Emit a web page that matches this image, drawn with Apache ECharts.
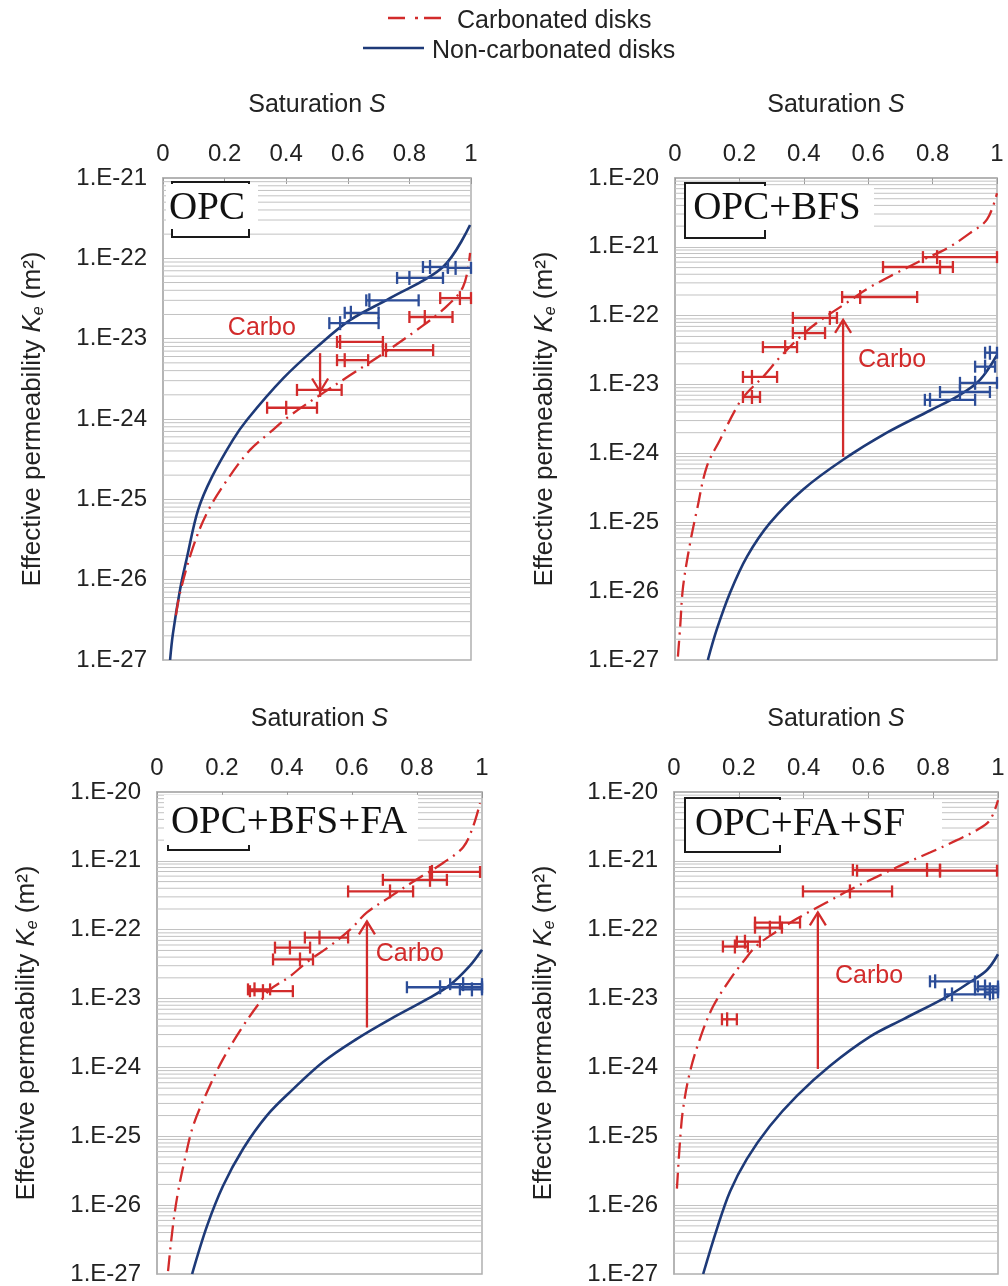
<!DOCTYPE html>
<html><head><meta charset="utf-8">
<script src="https://cdn.jsdelivr.net/npm/echarts@6/dist/echarts.min.js"></script>
<style>html,body{margin:0;padding:0;background:#fff}#c{width:1008px;height:1286px}</style>
</head><body><div id="c"></div><script>
// ---------- DATA (Saturation S, effective permeability Ke in m²) ----------
// Panel 1: OPC
const opcNonCarbCurve = [[0.023,1.0e-27],[0.032,2.1e-27],[0.055,7.4e-27],[0.078,1.9e-26],[0.114,7.4e-26],[0.159,1.9e-25],[0.227,5.5e-25],[0.273,9.8e-25],[0.39,3.2e-24],[0.5,7.9e-24],[0.607,1.7e-23],[0.737,3.2e-23],[0.909,7.8e-23],[0.997,2.6e-22]];
const opcCarbCurve = [[0.042,3.6e-27],[0.055,6.8e-27],[0.097,2.5e-26],[0.143,6.8e-26],[0.208,1.74e-25],[0.282,4.1e-25],[0.347,6.8e-25],[0.412,1.1e-24],[0.519,2.1e-24],[0.607,3.5e-24],[0.714,6.5e-24],[0.825,1.29e-23],[0.909,2.3e-23],[0.974,4.4e-23],[0.997,1.17e-22]];
// error bars: [S, S low, S high, Ke]
const opcNonCarbBars = [[0.867,0.844,0.925,7.8e-23],[0.95,0.925,1.0,7.6e-23],[0.80,0.76,0.909,5.7e-23],[0.67,0.66,0.83,3.0e-23],[0.61,0.59,0.70,2.1e-23],[0.575,0.54,0.70,1.56e-23]];
const opcCarbBars = [[0.964,0.90,1.0,3.2e-23],[0.85,0.80,0.94,1.86e-23],[0.575,0.565,0.714,9.1e-24],[0.724,0.714,0.877,7.2e-24],[0.59,0.565,0.666,5.4e-24],[0.51,0.435,0.58,2.3e-24],[0.40,0.338,0.50,1.38e-24]];
const opcArrow = [[0.51,6.6e-24,2.2e-24]];          // [S, from Ke, to Ke]
const opcCarboLabel = [[0.321,1.35e-23]];

// Panel 2: OPC+BFS
const bfsNonCarbCurve = [[0.102,1.0e-27],[0.130,2.8e-27],[0.171,9.5e-27],[0.224,3.2e-26],[0.295,9.8e-26],[0.398,3.0e-25],[0.522,8.1e-25],[0.658,2.0e-24],[0.792,4.2e-24],[0.885,7.1e-24],[0.947,1.17e-23],[1.0,2.7e-23]];
const bfsCarbCurve = [[0.009,1.12e-27],[0.016,3.0e-27],[0.025,1.15e-26],[0.047,5.0e-26],[0.068,1.5e-25],[0.099,6.5e-25],[0.140,1.58e-24],[0.193,4.8e-24],[0.224,7.6e-24],[0.273,1.29e-23],[0.326,2.5e-23],[0.388,4.9e-23],[0.441,7.9e-23],[0.534,1.55e-22],[0.606,2.6e-22],[0.689,4.2e-22],[0.770,6.5e-22],[0.845,9.5e-22],[0.916,1.58e-21],[0.969,2.5e-21],[1.0,6.0e-21]];
const bfsNonCarbBars = [[0.978,0.963,1.0,2.9e-23],[0.963,0.932,0.994,1.82e-23],[0.932,0.885,1.0,1.06e-23],[0.885,0.823,0.978,7.8e-24],[0.792,0.776,0.932,6.0e-24]];
const bfsCarbBars = [[0.814,0.77,1.0,7.1e-22],[0.823,0.646,0.863,5.1e-22],[0.575,0.519,0.752,1.87e-22],[0.481,0.366,0.503,9.3e-23],[0.404,0.366,0.466,5.6e-23],[0.342,0.273,0.379,3.5e-23],[0.239,0.211,0.317,1.29e-23],[0.239,0.211,0.264,6.6e-24]];
const bfsArrow = [[0.522,8.9e-25,8.7e-23]];
const bfsCarboLabel = [[0.674,2.3e-23]];

// Panel 3: OPC+BFS+FA
const bfsFaNonCarbCurve = [[0.108,1.0e-27],[0.154,5.0e-27],[0.203,1.9e-26],[0.265,6.6e-26],[0.338,2.0e-25],[0.418,4.8e-25],[0.511,1.2e-24],[0.615,2.6e-24],[0.717,5.0e-24],[0.831,9.8e-24],[0.902,1.58e-23],[0.963,3.0e-23],[1.0,5.1e-23]];
const bfsFaCarbCurve = [[0.034,1.1e-27],[0.049,5.0e-27],[0.065,1.58e-26],[0.086,4.7e-26],[0.111,1.41e-25],[0.154,4.4e-25],[0.203,1.32e-24],[0.265,4.0e-24],[0.317,8.9e-24],[0.348,1.35e-23],[0.409,2.1e-23],[0.462,3.4e-23],[0.532,5.8e-23],[0.594,1.0e-22],[0.646,1.78e-22],[0.717,3.0e-22],[0.80,5.4e-22],[0.880,9.3e-22],[0.942,1.58e-21],[0.972,3.1e-21],[0.994,6.9e-21]];
const bfsFaNonCarbBars = [[0.871,0.769,1.0,1.46e-23],[0.942,0.902,1.0,1.62e-23],[0.969,0.932,1.0,1.36e-23]];
const bfsFaCarbBars = [[0.846,0.84,0.994,6.9e-22],[0.84,0.695,0.892,5.3e-22],[0.717,0.588,0.788,3.6e-22],[0.50,0.455,0.588,7.7e-23],[0.409,0.363,0.471,5.5e-23],[0.44,0.357,0.48,3.7e-23],[0.326,0.286,0.418,1.28e-23],[0.30,0.28,0.348,1.36e-23]];
const bfsFaArrow = [[0.646,3.8e-24,1.32e-22]];
const bfsFaCarboLabel = [[0.778,4.4e-23]];

// Panel 4: OPC+FA+SF
const faSfNonCarbCurve = [[0.090,1.0e-27],[0.133,4.6e-27],[0.173,1.58e-26],[0.225,4.7e-26],[0.296,1.41e-25],[0.380,3.9e-25],[0.481,1.05e-24],[0.605,2.8e-24],[0.707,5.0e-24],[0.843,1.07e-23],[0.914,1.74e-23],[0.966,2.6e-23],[1.0,4.4e-23]];
const faSfCarbCurve = [[0.009,1.74e-26],[0.019,9.1e-26],[0.028,2.5e-25],[0.049,8.5e-25],[0.080,2.6e-24],[0.120,7.6e-24],[0.173,1.9e-23],[0.213,3.4e-23],[0.256,5.9e-23],[0.318,9.5e-23],[0.380,1.45e-22],[0.472,2.5e-22],[0.543,3.8e-22],[0.627,5.9e-22],[0.707,8.9e-22],[0.790,1.32e-21],[0.873,2.0e-21],[0.935,2.8e-21],[0.975,3.9e-21],[1.0,7.6e-21]];
const faSfNonCarbBars = [[0.806,0.79,0.929,1.78e-23],[0.858,0.836,0.975,1.15e-23],[0.975,0.929,1.0,1.36e-23],[0.985,0.96,1.0,1.23e-23],[0.96,0.938,1.0,1.5e-23]];
const faSfCarbBars = [[0.781,0.552,0.821,7.4e-22],[0.821,0.565,0.997,7.2e-22],[0.543,0.398,0.673,3.6e-22],[0.327,0.25,0.389,1.27e-22],[0.296,0.25,0.333,1.07e-22],[0.219,0.194,0.265,6.7e-23],[0.188,0.151,0.228,5.7e-23],[0.164,0.148,0.194,5.0e-24]];
const faSfArrow = [[0.444,9.5e-25,1.78e-22]];
const faSfCarboLabel = [[0.602,2.1e-23]];

const panelNames = ['OPC','OPC+BFS','OPC+BFS+FA','OPC+FA+SF'];
const xTickValues = [0,0.2,0.4,0.6,0.8,1];
const yMinExp = -27;                       // decades: 1.E-27 ...
const yMaxExps = [-21,-20,-20,-20];        // ... up to 1.E-21 / 1.E-20
const minorMultipliers = [2,3,4,5,6,7,8,9];
const legendNames = ['Carbonated disks','Non-carbonated disks'];

// ---------- STYLE / LAYOUT ----------
const RED = '#d22b2b', BLUE = '#1e3a78', BLUEBAR = '#2c4d98', GRIDC = '#c2c2c2', TXT = '#222';
const FONT = '"Liberation Sans", Arial, Helvetica, sans-serif';
const SERIF = '"Liberation Serif", "Times New Roman", serif';
const layouts = [
  {left:163, top:178, width:308, height:482},
  {left:675, top:178, width:322, height:482},
  {left:157, top:792, width:325, height:484},
  {left:674, top:792, width:324, height:484}
];
const boxes = [
  {frame:[172,182,77,55], fill:[166,184,92,45], tx:207, ty:209},
  {frame:[685,183,80,55], fill:[688,186,186,44], tx:777, ty:209},
  {frame:[168,797,81,53], fill:[164,795,254,50], tx:289, ty:823},
  {frame:[685,798,95,54], fill:[688,800,254,45], tx:800, ty:825}
];

const panels = [
  {non:opcNonCarbCurve, carb:opcCarbCurve, nonBars:opcNonCarbBars, carbBars:opcCarbBars, arrow:opcArrow, label:opcCarboLabel},
  {non:bfsNonCarbCurve, carb:bfsCarbCurve, nonBars:bfsNonCarbBars, carbBars:bfsCarbBars, arrow:bfsArrow, label:bfsCarboLabel},
  {non:bfsFaNonCarbCurve, carb:bfsFaCarbCurve, nonBars:bfsFaNonCarbBars, carbBars:bfsFaCarbBars, arrow:bfsFaArrow, label:bfsFaCarboLabel},
  {non:faSfNonCarbCurve, carb:faSfCarbCurve, nonBars:faSfNonCarbBars, carbBars:faSfCarbBars, arrow:faSfArrow, label:faSfCarboLabel}
];

// The y axis is drawn in decades (log10 of Ke); values are converted here.
const lg = Math.log10;
const toLogPts = arr => arr.map(d => [d[0], lg(d[1])]);
const toLogBars = arr => arr.map(d => [d[0], d[1], d[2], lg(d[3])]);
const toLogArrow = arr => arr.map(d => [d[0], lg(d[1]), lg(d[2])]);

function minorLines(maxExp){
  const out = [];
  for (let e = yMinExp; e < maxExp; e++) {
    minorMultipliers.forEach(m => out.push([0, e + lg(m)]));
  }
  return out;
}

function barRenderer(color){
  return function(params, api){
    const s = api.value(0), lo = api.value(1), hi = api.value(2), k = api.value(3);
    const c = api.coord([s,k]), a = api.coord([lo,k]), b = api.coord([hi,k]);
    const y = c[1];
    const st = {stroke:color, lineWidth:2.3};
    return {type:'group', children:[
      {type:'line', shape:{x1:a[0],y1:y,x2:b[0],y2:y}, style:st},
      {type:'line', shape:{x1:a[0],y1:y-6,x2:a[0],y2:y+6}, style:st},
      {type:'line', shape:{x1:b[0],y1:y-6,x2:b[0],y2:y+6}, style:st},
      {type:'line', shape:{x1:c[0],y1:y-7,x2:c[0],y2:y+7}, style:st}
    ]};
  };
}

const grid = [], xAxis = [], yAxis = [], series = [];
panels.forEach((p, i) => {
  grid.push(Object.assign({show:true, borderColor:'#b0b0b0', borderWidth:1.5, backgroundColor:'#fff'}, layouts[i]));
  xAxis.push({
    gridIndex:i, type:'value', min:0, max:1, interval:0.2, position:'top',
    name:'Saturation {i|S}', nameLocation:'middle', nameGap:60,
    nameTextStyle:{fontSize:25, color:TXT, fontFamily:FONT,
      rich:{i:{fontStyle:'italic', fontSize:25, color:TXT, fontFamily:FONT}}},
    axisLine:{show:true, lineStyle:{color:'#b0b0b0', width:1.5}},
    axisTick:{show:true, inside:true, length:6, lineStyle:{color:'#999'}},
    axisLabel:{fontSize:24, color:TXT, fontFamily:FONT, margin:12,
      formatter: v => String(+(+v).toFixed(1))},
    splitLine:{show:false}
  });
  yAxis.push({
    gridIndex:i, type:'value', min:yMinExp, max:yMaxExps[i], interval:1,
    name:'Effective permeability {i|K}{sub|e} (m²)', nameLocation:'middle', nameGap:116, nameRotate:90,
    nameTextStyle:{fontSize:26, color:TXT, fontFamily:FONT,
      rich:{
        i:{fontStyle:'italic', fontSize:26, color:TXT, fontFamily:FONT},
        sub:{fontStyle:'italic', fontSize:16, color:TXT, fontFamily:FONT, padding:[12,0,0,0]}
      }},
    axisLine:{show:true, lineStyle:{color:'#b0b0b0', width:1.5}},
    axisTick:{show:false},
    axisLabel:{fontSize:24, color:TXT, fontFamily:FONT, margin:16,
      formatter: v => '1.E' + Math.round(v)},
    splitLine:{show:true, lineStyle:{color:GRIDC, width:1}}
  });
  series.push({
    type:'custom', xAxisIndex:i, yAxisIndex:i, silent:true, z:1,
    data:minorLines(yMaxExps[i]), encode:{x:0, y:1},
    renderItem:(params, api) => {
      const pt = api.coord([0, api.value(1)]);
      const cs = params.coordSys;
      return {type:'line', shape:{x1:cs.x, y1:pt[1], x2:cs.x+cs.width, y2:pt[1]},
        style:{stroke:GRIDC, lineWidth:1}};
    }
  });
  series.push({
    name:legendNames[1], type:'line', xAxisIndex:i, yAxisIndex:i, data:toLogPts(p.non),
    smooth:0.35, showSymbol:false, z:3, lineStyle:{color:BLUE, width:2.6}
  });
  series.push({
    name:legendNames[0], type:'line', xAxisIndex:i, yAxisIndex:i, data:toLogPts(p.carb),
    smooth:0.35, showSymbol:false, z:3, lineStyle:{color:RED, width:2.3, type:[16,6,2,6]}
  });
  series.push({
    type:'custom', xAxisIndex:i, yAxisIndex:i, z:4, data:toLogBars(p.nonBars),
    encode:{x:[0,1,2], y:3}, renderItem:barRenderer(BLUEBAR)
  });
  series.push({
    type:'custom', xAxisIndex:i, yAxisIndex:i, z:4, data:toLogBars(p.carbBars),
    encode:{x:[0,1,2], y:3}, renderItem:barRenderer(RED)
  });
  series.push({
    type:'custom', xAxisIndex:i, yAxisIndex:i, z:5, data:toLogArrow(p.arrow),
    encode:{x:0, y:[1,2]},
    renderItem:(params, api) => {
      const s = api.value(0);
      const a = api.coord([s, api.value(1)]), b = api.coord([s, api.value(2)]);
      const dir = b[1] > a[1] ? 1 : -1;
      const st = {stroke:RED, lineWidth:2.3, fill:null};
      return {type:'group', children:[
        {type:'line', shape:{x1:a[0],y1:a[1],x2:b[0],y2:b[1]}, style:st},
        {type:'polyline', shape:{points:[[b[0]-8,b[1]-dir*13],[b[0],b[1]],[b[0]+8,b[1]-dir*13]]}, style:st}
      ]};
    }
  });
  series.push({
    type:'custom', xAxisIndex:i, yAxisIndex:i, z:5, data:toLogPts(p.label),
    encode:{x:0, y:1},
    renderItem:(params, api) => {
      const pt = api.coord([api.value(0), api.value(1)]);
      return {type:'text', x:pt[0], y:pt[1],
        style:{text:'Carbo', fill:RED, font:'25px ' + FONT, align:'center', verticalAlign:'middle'}};
    }
  });
});

const graphic = [];
boxes.forEach((b, i) => {
  graphic.push({type:'rect', z:100, shape:{x:b.frame[0], y:b.frame[1], width:b.frame[2], height:b.frame[3]},
    style:{fill:'#fff', stroke:'#1a1a1a', lineWidth:2}});
  graphic.push({type:'rect', z:101, shape:{x:b.fill[0], y:b.fill[1], width:b.fill[2], height:b.fill[3]},
    style:{fill:'#fff'}});
  graphic.push({type:'text', z:102, x:b.tx, y:b.ty,
    style:{text:panelNames[i], font:'39px ' + SERIF, fill:'#111', align:'center', verticalAlign:'middle'}});
});
// legend (top)
graphic.push({type:'line', z:100, shape:{x1:388, y1:18, x2:446, y2:18},
  style:{stroke:RED, lineWidth:2.6, lineDash:[17,10,3,6]}});
graphic.push({type:'text', z:100, x:457, y:21,
  style:{text:legendNames[0], font:'25px ' + FONT, fill:TXT, align:'left', verticalAlign:'middle'}});
graphic.push({type:'line', z:100, shape:{x1:363, y1:48, x2:424, y2:48},
  style:{stroke:BLUE, lineWidth:2.6}});
graphic.push({type:'text', z:100, x:432, y:51,
  style:{text:legendNames[1], font:'25px ' + FONT, fill:TXT, align:'left', verticalAlign:'middle'}});

const chart = echarts.init(document.getElementById('c'), null, {renderer:'canvas'});
chart.setOption({animation:false, backgroundColor:'#fff', grid, xAxis, yAxis, series, graphic});
</script></body></html>
